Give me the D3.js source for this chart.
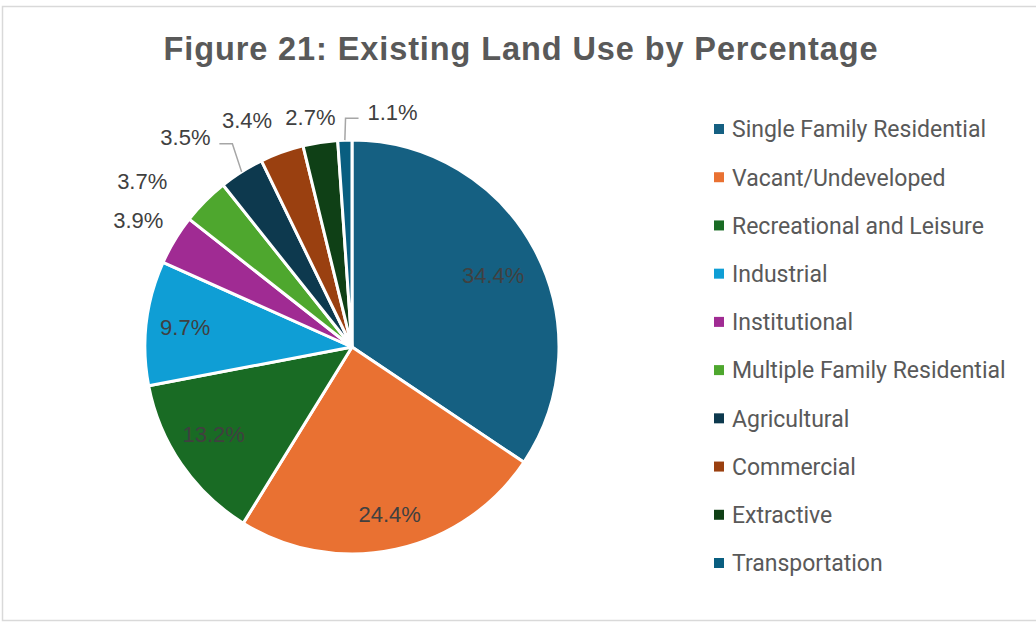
<!DOCTYPE html>
<html lang="en">
<head>
    <meta charset="UTF-8">
    <title>Existing Land Use</title>
    <script src="https://d3js.org/d3.v7.min.js"></script>
    <style>
        body { margin: 0; background: #fff; }
        svg { display: block; }
        .title { font-family: "Liberation Sans", Arial, sans-serif; font-weight: bold; font-size: 32.5px; letter-spacing: 0.9px; fill: #595959; }
        .pct { font-family: "Liberation Sans", Arial, sans-serif; font-size: 22px; fill: #404040; }
        .legend text { font-family: Roboto, sans-serif; font-size: 23px; fill: #595959; }
    </style>
</head>
<body>
<script>
    const width = 1036;
    const height = 622;

    // land use categories and their share (%)
    const categories = ["Single Family Residential", "Vacant/Undeveloped", "Recreational and Leisure",
        "Industrial", "Institutional", "Multiple Family Residential", "Agricultural",
        "Commercial", "Extractive", "Transportation"];
    const percents = [34.4, 24.4, 13.2, 9.7, 3.9, 3.7, 3.5, 3.4, 2.7, 1.1];
    const colors = ["#156082", "#E97132", "#196B24", "#0F9ED5", "#A02B93", "#4EA72E",
        "#0D394E", "#9A4010", "#0F4016", "#095E80"];

    const data = categories.map((c, i) => ({name: c, value: percents[i]}));

    const svg = d3.select("body").append("svg")
            .attr("width", width).attr("height", height);

    // chart frame
    svg.append("rect")
            .attr("x", 2.5).attr("y", 6.5)
            .attr("width", width + 10).attr("height", height - 8)
            .style("fill", "none")
            .style("stroke", "#d9d9d9")
            .style("stroke-width", 1.5);

    svg.append("text").attr("class", "title")
            .attr("x", 521).attr("y", 60)
            .attr("text-anchor", "middle")
            .text("Figure 21: Existing Land Use by Percentage");

    const cx = 352, cy = 347, radius = 207;

    const color = d3.scaleOrdinal().domain(categories).range(colors);

    const pie = d3.pie().sort(null).value(d => d.value);
    const arcs = pie(data);

    const arc = d3.arc().innerRadius(0).outerRadius(radius);
    const insideArc = d3.arc().innerRadius(168).outerRadius(168);
    const outsideArc = d3.arc().innerRadius(245).outerRadius(245);
    const edgeArc = d3.arc().innerRadius(radius).outerRadius(radius);

    const g = svg.append("g").attr("transform", `translate(${cx},${cy})`);

    g.selectAll("path.slice")
            .data(arcs)
            .enter()
            .append("path")
            .attr("class", "slice")
            .attr("d", arc)
            .style("fill", d => color(d.data.name))
            .style("stroke", "white")
            .style("stroke-width", 3)
            .style("stroke-linejoin", "round");

    // label nudges, like Excel's best fit placement
    const nudge = {0: [-7, 7], 1: [2, 3], 2: [0, -8],
        4: [-4, 0], 5: [-36, 7], 6: [-36, -2], 7: [-22, 4], 8: [-4, 12], 9: [49, 10]};

    function labelPos(d, i) {
        const p = d.data.value >= 5 ? insideArc.centroid(d) : outsideArc.centroid(d);
        const n = nudge[i] || [0, 0];
        return [p[0] + n[0], p[1] + n[1]];
    }

    // leader lines for labels pushed away from their slice
    const leaders = arcs.map((d, i) => ({d, i})).filter(o => o.i === 6 || o.i === 9);
    g.selectAll("path.leader")
            .data(leaders)
            .enter()
            .append("path")
            .attr("class", "leader")
            .attr("d", o => {
                const p = labelPos(o.d, o.i);
                const e = edgeArc.centroid(o.d);
                const side = p[0] < e[0] ? 1 : -1;
                const x0 = p[0] + side * 34;
                const x1 = p[0] + side * 47;
                const y = p[1] + 6;
                return `M${x0},${y}L${x1},${y}L${e[0]},${e[1]}`;
            })
            .style("fill", "none")
            .style("stroke", "#a6a6a6")
            .style("stroke-width", 1.5);

    g.selectAll("text.pct")
            .data(arcs)
            .enter()
            .append("text")
            .attr("class", "pct")
            .attr("text-anchor", "middle")
            .attr("dy", "0.35em")
            .attr("transform", (d, i) => `translate(${labelPos(d, i)})`)
            .text(d => d3.format(".1f")(d.data.value) + "%");

    // legend
    const legendY = d3.scalePoint().domain(categories).range([129, 563]);

    const legend = svg.append("g").attr("class", "legend")
            .selectAll("g")
            .data(categories)
            .enter()
            .append("g")
            .attr("transform", d => `translate(714,${legendY(d)})`);

    legend.append("rect")
            .attr("x", 0).attr("y", -5)
            .attr("width", 10).attr("height", 10)
            .style("fill", d => color(d));

    legend.append("text")
            .attr("x", 18).attr("dy", "0.36em")
            .text(d => d);
</script>
</body>
</html>
